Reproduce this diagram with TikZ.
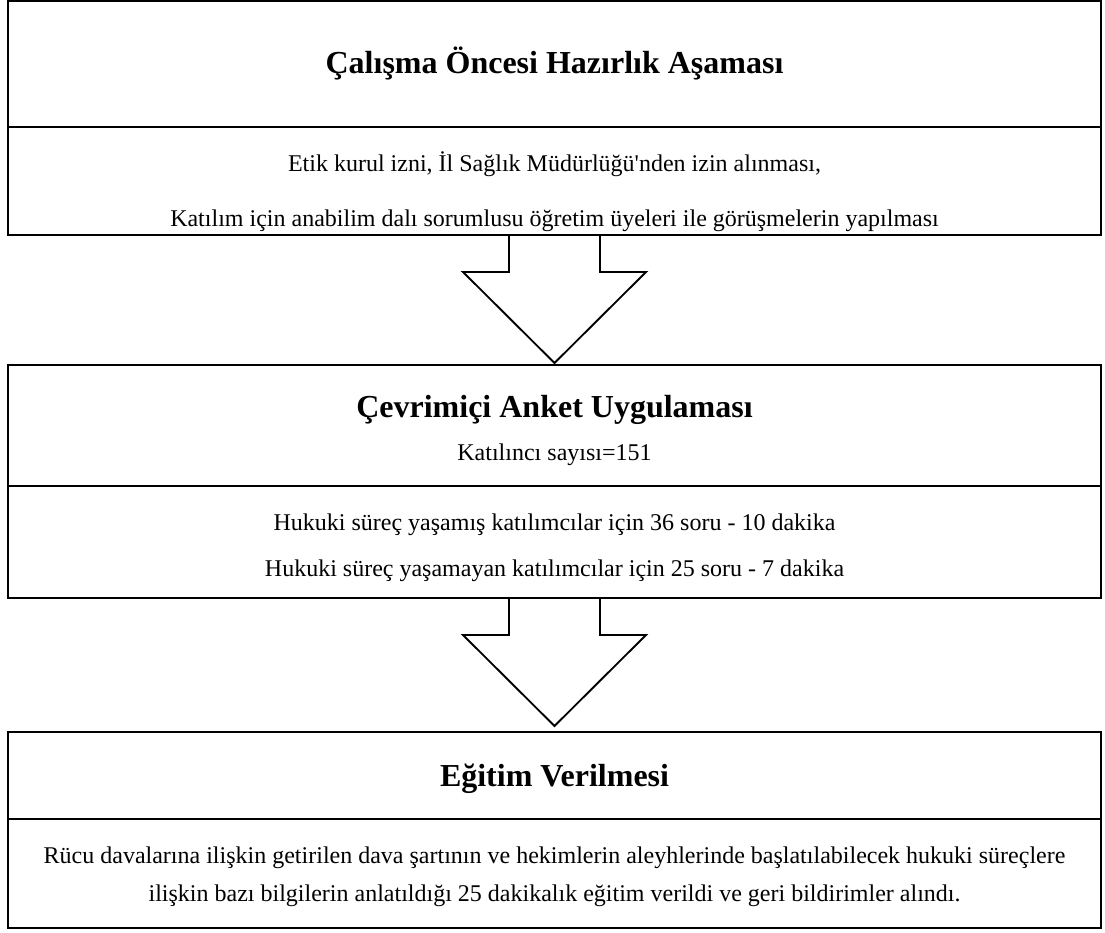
\documentclass[tikz,border=0pt]{standalone}
\usepackage{fontspec}
\setmainfont{Liberation Serif}
\usetikzlibrary{positioning,calc}

\begin{document}
\begin{tikzpicture}[x=0.75pt,y=-0.75pt,line width=1.4pt,node distance=0pt,
  part/.style={draw,outer sep=0pt,inner sep=0pt,minimum width=819.75pt},
  ttl/.style={anchor=base,inner sep=0pt,font=\fontsize{24}{28}\selectfont\bfseries},
  txt/.style={anchor=base,inner sep=0pt,font=\fontsize{18}{21}\selectfont},
  blockarrow/.style={draw,line join=miter}]
\useasboundingbox (0,0) rectangle (1105,932);
% frames
\node[part,minimum height=94.5pt] (pre) at (554.5,64) {};
\node[part,minimum height=81pt,below=of pre] (preb) {};
\node[part,minimum height=90.75pt] (uyg) at (554.5,425.5) {};
\node[part,minimum height=84pt,below=of uyg] (uygb) {};
\node[part,minimum height=65.25pt] (egt) at (554.5,775.5) {};
\node[part,minimum height=81.75pt,below=of egt] (egtb) {};
% texts
\node[ttl] (preT) at (554.5,73) {Çalışma Öncesi Hazırlık Aşaması};
\node[txt] (pre1) at (554.5,171) {Etik kurul izni, İl Sağlık Müdürlüğü\textquotesingle nden izin alınması,};
\node[txt] (pre2) at (554.5,226) {Katılım için anabilim dalı sorumlusu öğretim üyeleri ile görüşmelerin yapılması};
\node[ttl] (uygT) at (554.5,417) {Çevrimiçi Anket Uygulaması};
\node[txt] (uygN) at (554.5,460) {Katılıncı sayısı=151};
\node[txt] (uyg1) at (554.5,530) {Hukuki süreç yaşamış katılımcılar için 36 soru - 10 dakika};
\node[txt] (uyg2) at (554.5,576) {Hukuki süreç yaşamayan katılımcılar için 25 soru - 7 dakika};
\node[ttl] (egtT) at (554.5,786) {Eğitim Verilmesi};
\node[txt] (egt1) at (554.5,863) {Rücu davalarına ilişkin getirilen dava şartının ve hekimlerin aleyhlerinde başlatılabilecek hukuki süreçlere};
\node[txt] (egt2) at (554.5,901) {ilişkin bazı bilgilerin anlatıldığı 25 dakikalık eğitim verildi ve geri bildirimler alındı.};
% block arrows
\foreach \s in {preb,uygb}
  \draw[blockarrow] ($(\s.south)+(-45.5,0)$) -- ++(0,37) -- ++(-46,0)
    -- ++(91.5,91) -- ++(91.5,-91) -- ++(-46,0) -- ++(0,-37);
\end{tikzpicture}
\end{document}
